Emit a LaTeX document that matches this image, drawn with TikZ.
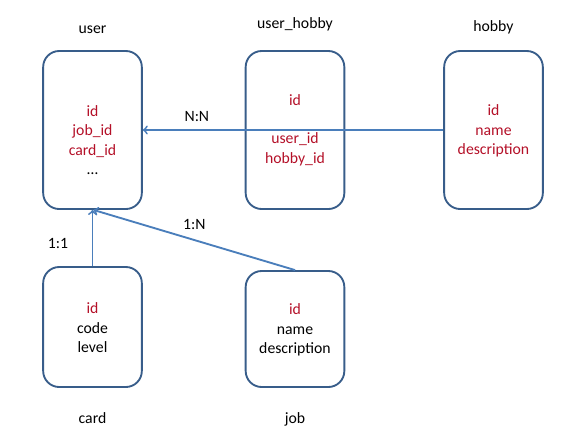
\documentclass[tikz,border=0pt]{standalone}
\usepackage{fontspec}
\setmainfont{Carlito}
\usepackage{xcolor}
\usetikzlibrary{calc,positioning,arrows}
\definecolor{boxline}{RGB}{56,93,138}
\definecolor{linkline}{RGB}{74,126,187}
\definecolor{keyred}{RGB}{180,16,40}

\begin{document}
\begin{tikzpicture}[x=0.75pt,y=-0.75pt,
    font=\fontsize{11.8}{14.6}\selectfont,
    table/.style={rectangle,draw=boxline,line width=1.4pt,rounded corners=12pt,
      minimum width=74pt,minimum height=#1},
    fields/.style={align=center,inner sep=0pt},
    title/.style={inner sep=0pt},
    link/.style={draw=linkline,line width=1.4pt,->}]
      \useasboundingbox (0,0) rectangle (571,444);
      \node (user) [table=118.5pt] at (92.5,130) {};
      \node (userhobby) [table=118.5pt] at (295,130) {};
      \node (hobby) [table=118.5pt] at (493.5,130) {};
      \node (card) [table=90pt] at (92.5,327) {};
      \node (job) [table=87pt] at (295,329) {};
      % names of the tables
      \node (tuser) [title,above=12pt of user] {user};
      \node (tuserhobby) [title,above=14pt of userhobby] {user\_hobby};
      \node (thobby) [title,above=12pt of hobby] {hobby};
      \node (tcard) [title,below=18pt of card] {card};
      \node (tjob) [title,below=18pt of job] {job};
      % columns
      \node (fuser) [fields,text=keyred] at ($(user.center)+(0,10)$)
        {id\\job\_id\\card\_id\\\textcolor{black}{…}};
      \node (fuserhobby) [fields,text=keyred] at (userhobby.center)
        {id\\[14pt]user\_id\\hobby\_id};
      \node (fhobby) [fields,text=keyred] at ($(hobby.center)+(0,1)$)
        {id\\name\\description};
      \node (fcard) [fields] at ($(card.center)+(0,1)$)
        {\textcolor{keyred}{id}\\code\\level};
      \node (fjob) [fields] at ($(job.center)+(0,1)$)
        {\textcolor{keyred}{id}\\name\\description};
      % relations
      \draw[link] (hobby.west) -- (user.east) node[pos=0.82,above=2pt,text=black] {N:N};
      \draw[link] (card.north) -- (user.south);
      \node (l11) at (58,243) {1:1};
      \draw[link] (job.north) -- ($(user.south)+(1,0)$) node[pos=0.5,above=4pt,text=black] {1:N};
    \end{tikzpicture}
\end{document}
